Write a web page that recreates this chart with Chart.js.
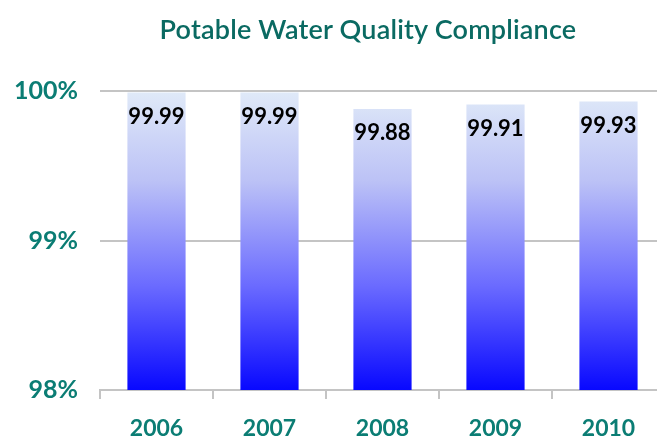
<!DOCTYPE html>
<html>
<head>
<meta charset="utf-8">
<script src="https://cdn.jsdelivr.net/npm/chart.js@4/dist/chart.umd.min.js"></script>
<style>
  html, body { margin: 0; padding: 0; background: #fff; overflow: hidden; }
  #wrap { position: relative; width: 665px; height: 439px; }
  #title {
    position: absolute; left: 118px; top: 12px; width: 500px;
    text-align: center; white-space: nowrap;
    font: 600 27px Lato, "DejaVu Sans", sans-serif;
    letter-spacing: 0.2px;
    color: #0a6a62;
  }
</style>
</head>
<body>
<div id="wrap">
  <div id="title"></div>
  <canvas id="chart"></canvas>
</div>
<script>
const years = ['2006', '2007', '2008', '2009', '2010'];
const compliance = [99.99, 99.99, 99.88, 99.91, 99.93];
const yTicks = [98, 99, 100];
const chartTitle = 'Potable Water Quality Compliance';

const teal = '#0b7d74';
const font = 'Lato, "DejaVu Sans", sans-serif';

document.getElementById('title').textContent = chartTitle;

// bar gradient, light at top, strong blue at the bottom
function barFill(context) {
    const chart = context.chart;
    const area = chart.chartArea;
    if (!area) {
        return '#6a6aff';
    }
    const g = chart.ctx.createLinearGradient(0, area.top, 0, area.bottom);
    g.addColorStop(0, '#e0eaf8');
    g.addColorStop(0.3, '#bcc2f6');
    g.addColorStop(0.65, '#6b6bff');
    g.addColorStop(1, '#0808ff');
    return g;
}

// values written just below the top of each bar
const valueLabels = {
    id: 'valueLabels',
    afterDatasetsDraw(chart) {
        const ctx = chart.ctx;
        const meta = chart.getDatasetMeta(0);
        ctx.save();
        ctx.font = 'bold 22px ' + font;
        ctx.fillStyle = '#000';
        ctx.textAlign = 'center';
        ctx.textBaseline = 'middle';
        meta.data.forEach((bar, i) => {
            ctx.fillText(compliance[i].toFixed(2), bar.x, bar.y + 24);
        });
        ctx.restore();
    }
};

new Chart(document.getElementById('chart'), {
    type: 'bar',
    data: {
        labels: years,
        datasets: [{
            data: compliance,
            backgroundColor: barFill,
            borderWidth: 0,
            categoryPercentage: 1,
            barPercentage: 0.515
        }]
    },
    options: {
        responsive: true,
        maintainAspectRatio: false,
        animation: false,
        layout: { padding: { top: 91, right: 0, left: 0, bottom: 0 } },
        plugins: {
            legend: { display: false },
            tooltip: { enabled: false },
            title: { display: false }
        },
        scales: {
            x: {
                offset: true,
                border: { display: true, color: '#c4c4c4', width: 2 },
                grid: {
                    offset: true,
                    drawOnChartArea: false,
                    drawTicks: true,
                    tickLength: 9,
                    color: '#c4c4c4',
                    lineWidth: 2
                },
                ticks: {
                    color: teal,
                    font: { family: font, size: 23, weight: 'bold' },
                    padding: 16
                },
                afterFit(scale) { scale.height = 49; }
            },
            y: {
                min: 98,
                max: 100,
                afterBuildTicks(scale) {
                    scale.ticks = yTicks.map(v => ({ value: v }));
                },
                border: { display: false },
                grid: {
                    drawTicks: false,
                    color: '#c4c4c4',
                    lineWidth: 2
                },
                ticks: {
                    color: teal,
                    font: { family: font, size: 25, weight: 'bold' },
                    padding: 22,
                    callback: v => v + '%'
                },
                afterFit(scale) { scale.width = 100; }
            }
        }
    },
    plugins: [valueLabels]
});
</script>
</body>
</html>
